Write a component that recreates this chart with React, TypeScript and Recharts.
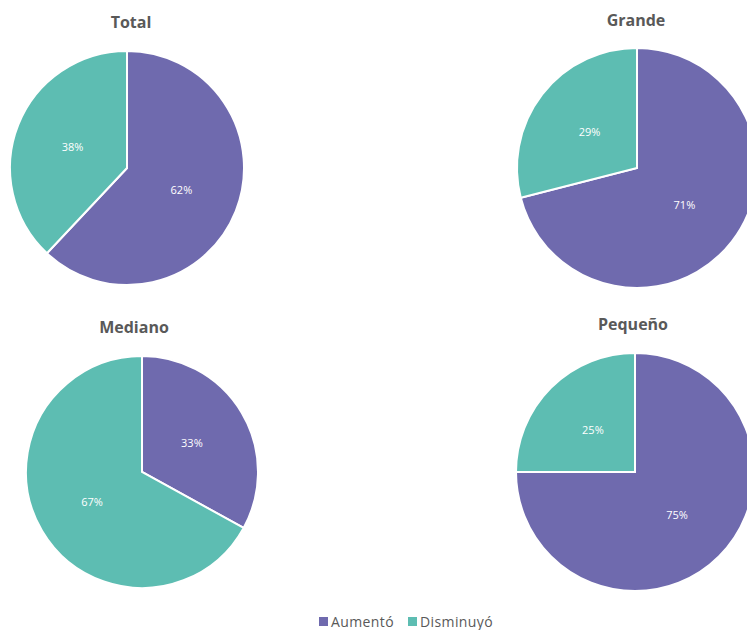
import { Pie, PieChart } from "recharts";

const categories = ["Aumentó", "Disminuyó"];
const colors = ["#6f6aae", "#5dbdb2"];

const groups = ["Total", "Grande", "Mediano", "Pequeño"];
const aumento = [62, 71, 33, 75];
const disminuyo = [38, 29, 67, 25];

// pie placement per group (chart coords)
const layout = [
  { cx: 127, cy: 168, r: 117, tx: 131, ty: 22 },
  { cx: 637, cy: 168, r: 120, tx: 636, ty: 20 },
  { cx: 142, cy: 472, r: 116, tx: 134, ty: 327 },
  { cx: 635, cy: 472, r: 119, tx: 633, ty: 324 },
];

const FONT = "'Open Sans', 'DejaVu Sans', sans-serif";
const RAD = Math.PI / 180;

function renderLabel(props: any) {
  const { cx, cy, midAngle, outerRadius, value } = props;
  const r = outerRadius * 0.5;
  const x = cx + r * Math.cos(-midAngle * RAD);
  const y = cy + r * Math.sin(-midAngle * RAD);
  return (
    <text
      x={x}
      y={y}
      fill="#ffffff"
      fontSize={11}
      fontFamily={FONT}
      textAnchor="middle"
      dominantBaseline="central"
    >
      {`${value}%`}
    </text>
  );
}

export default function App() {
  return (
    <div style={{ position: "absolute", left: 0, top: 0, width: 747, height: 630, background: "#fff", overflow: "hidden" }}>
      <PieChart width={747} height={630} margin={{ top: 0, right: 0, bottom: 0, left: 0 }}>
        {groups.map((g, i) => {
          const data = categories.map((c, j) => ({
            name: c,
            value: j === 0 ? aumento[i] : disminuyo[i],
            fill: colors[j],
          }));
          const l = layout[i];
          return (
            <Pie
              key={g}
              data={data}
              dataKey="value"
              nameKey="name"
              cx={l.cx}
              cy={l.cy}
              outerRadius={l.r}
              startAngle={90}
              endAngle={-270}
              stroke="#ffffff"
              strokeWidth={2}
              label={renderLabel}
              labelLine={false}
              isAnimationActive={false}
            />
          );
        })}
      </PieChart>
      {groups.map((g, i) => (
        <div
          key={g}
          style={{
            position: "absolute",
            left: layout[i].tx - 60,
            top: layout[i].ty - 11,
            width: 120,
            textAlign: "center",
            fontFamily: FONT,
            fontWeight: 700,
            fontSize: 16,
            color: "#595959",
          }}
        >
          {g}
        </div>
      ))}
      <div
        style={{
          position: "absolute",
          left: 0,
          top: 612,
          width: 812,
          display: "flex",
          justifyContent: "center",
          gap: 14,
          fontFamily: FONT,
          fontSize: 14,
          letterSpacing: 0.4,
          color: "#595959",
        }}
      >
        {categories.map((c, j) => (
          <span key={c} style={{ display: "flex", alignItems: "center" }}>
            <span style={{ width: 9, height: 9, background: colors[j], marginRight: 3, display: "inline-block" }} />
            {c}
          </span>
        ))}
      </div>
    </div>
  );
}
